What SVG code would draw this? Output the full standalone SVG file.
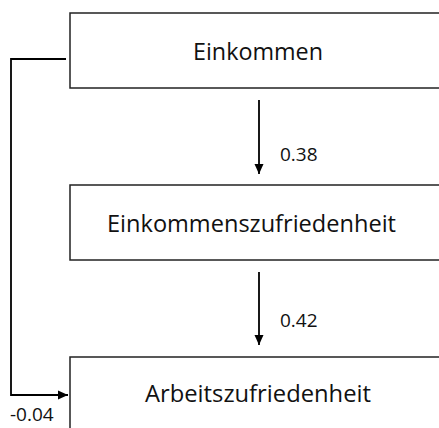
<svg xmlns="http://www.w3.org/2000/svg" width="439" height="428" viewBox="0 0 439 428">
<style>
.box{fill:#fff;stroke:#222;stroke-width:1.5}
.t{font-family:"Open Sans","Noto Sans",sans-serif;font-size:23px;fill:#111;text-anchor:middle}
.l{font-family:"Open Sans","Noto Sans",sans-serif;font-size:19px;fill:#111}
.c{fill:none;stroke:#000;stroke-width:1.8}
</style>
<defs>
<marker id="ah" viewBox="0 0 10 10" refX="10" refY="5" markerWidth="10" markerHeight="10" markerUnits="userSpaceOnUse" orient="auto">
<path d="M0,0.5 L10,5 L0,9.5 Z" fill="#000"/>
</marker>
</defs>
<rect width="439" height="428" fill="#fff"/>
<g id="node-einkommen">
<rect class="box" x="70" y="13" width="400" height="75"/>
<text class="t" x="258" y="60" textLength="130" lengthAdjust="spacingAndGlyphs">Einkommen</text>
</g>
<g id="node-einkommenszufriedenheit">
<rect class="box" x="70" y="185" width="400" height="75"/>
<text class="t" x="251.5" y="231.7" textLength="289" lengthAdjust="spacingAndGlyphs">Einkommenszufriedenheit</text>
</g>
<g id="node-arbeitszufriedenheit">
<rect class="box" x="70" y="357" width="400" height="100"/>
<text class="t" x="258" y="401.7" textLength="226" lengthAdjust="spacingAndGlyphs">Arbeitszufriedenheit</text>
</g>
<g id="connectors">
<line class="c" x1="259" y1="100" x2="259" y2="174" marker-end="url(#ah)"/>
<line class="c" x1="259" y1="272" x2="259" y2="345" marker-end="url(#ah)"/>
<polyline class="c" points="66,59 11,59 11,395 68,395" marker-end="url(#ah)"/>
<text class="l" x="280" y="160.7">0.38</text>
<text class="l" x="280" y="327">0.42</text>
<text class="l" x="10" y="421" font-size="18">-0.04</text>
</g>
</svg>
